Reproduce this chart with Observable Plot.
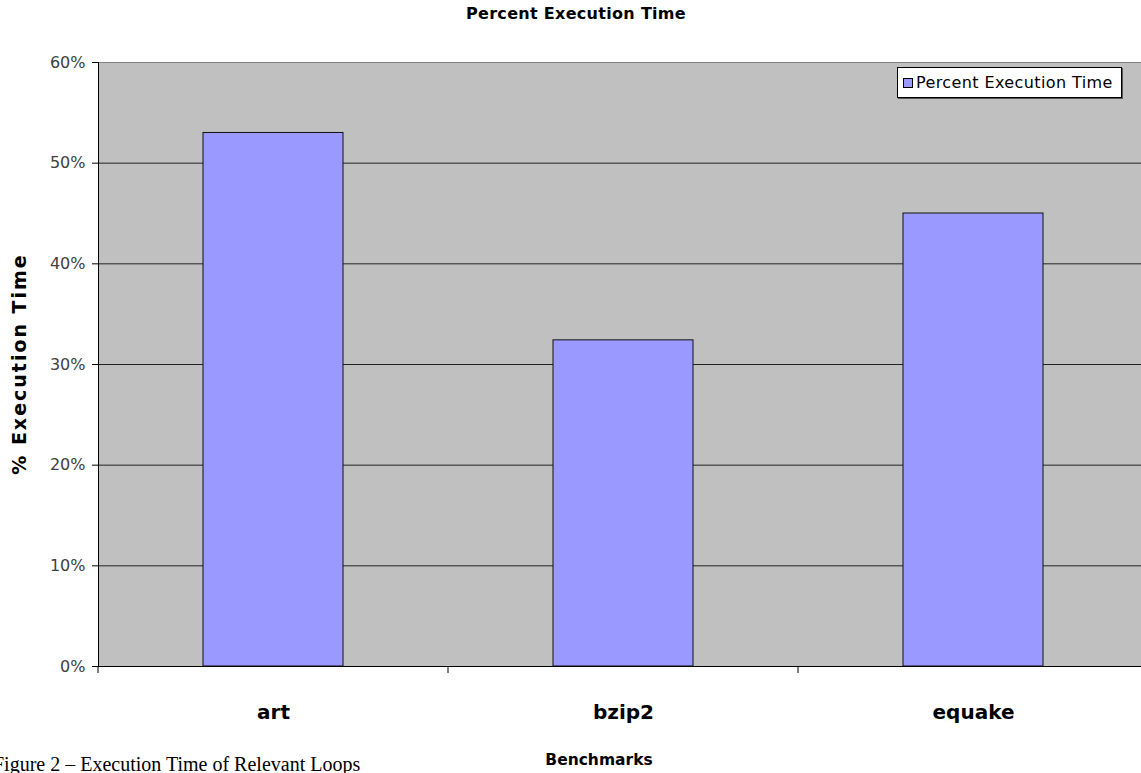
<!DOCTYPE html>
<html>
<head>
<meta charset="utf-8">
<script src="https://cdn.jsdelivr.net/npm/d3@7"></script>
<script src="https://cdn.jsdelivr.net/npm/@observablehq/plot@0.6"></script>
<style>
  html, body { margin: 0; padding: 0; background: #fff; }
  #wrap { position: relative; width: 1141px; height: 773px; overflow: hidden; font-family: "DejaVu Sans", Verdana, sans-serif; }
  #chart { position: absolute; left: 0; top: 0; width: 1200px; }
  #chart svg { max-width: none !important; }
  .title { position: absolute; top: 4px; left: 576px; transform: translateX(-50%); white-space: nowrap; font-weight: bold; font-size: 16px; letter-spacing: 0.3px; color: #000; }
  .ylab { position: absolute; left: 19px; top: 364px; transform: translate(-50%, -50%) rotate(-90deg); white-space: nowrap; font-weight: bold; font-size: 19px; letter-spacing: 2px; color: #000; }
  .xlab { position: absolute; top: 751px; left: 599px; transform: translateX(-50%); white-space: nowrap; font-weight: bold; font-size: 15.5px; color: #000; }
  .caption { position: absolute; left: -7px; top: 753px; font-family: "Liberation Serif", "Times New Roman", serif; font-size: 20px; color: #000; white-space: nowrap; }
  .legend { position: absolute; left: 897px; top: 67px; width: 225px; height: 31px; background: #fff; border: 1px solid #000; box-shadow: 1px 1px 0 #555; display: flex; align-items: center; font-size: 16px; letter-spacing: 0.4px; color: #000; box-sizing: border-box; padding-left: 5px; white-space: nowrap; }
  .legend .sw { width: 8px; height: 8px; background: #9999FF; border: 1px solid #000; margin-right: 3px; flex: none; }
</style>
</head>
<body>
<div id="wrap">
  <div id="chart"></div>
  <div class="title">Percent Execution Time</div>
  <div class="ylab">% Execution Time</div>
  <div class="xlab">Benchmarks</div>
  <div class="caption">Figure 2 – Execution Time of Relevant Loops</div>
  <div class="legend"><span class="sw"></span><span id="legtext"></span></div>
</div>
<script>
const benchmarks = ["art", "bzip2", "equake"];
const percentExecution = [0.53, 0.324, 0.45];
const seriesName = "Percent Execution Time";
const yTicks = [0, 0.1, 0.2, 0.3, 0.4, 0.5, 0.6];

document.getElementById("legtext").textContent = seriesName;

const data = benchmarks.map((b, i) => ({benchmark: b, value: percentExecution[i]}));

// Category boundary ticks below the x axis, placed through the x scale
function boundaryTicks(index, scales, values, dims) {
  const g = d3.create("svg:g");
  const x = scales.x;
  const step = x.step();
  const y0 = dims.height - dims.marginBottom;
  const xs = benchmarks.map(b => x(b) - (step - x.bandwidth()) / 2);
  xs.push(xs[xs.length - 1] + step);
  for (const px of xs) {
    g.append("line").attr("x1", px).attr("x2", px).attr("y1", y0).attr("y2", y0 + 7)
      .attr("stroke", "#000").attr("stroke-width", 1);
  }
  return g.node();
}

const plot = Plot.plot({
  width: 1200,
  height: 773,
  marginLeft: 98,
  marginRight: 52,
  marginTop: 62,
  marginBottom: 107,
  style: {fontFamily: "DejaVu Sans, Verdana, sans-serif", background: "transparent", maxWidth: "none"},
  x: {domain: benchmarks, paddingInner: 0.6, paddingOuter: 0.3, align: 0.5},
  y: {domain: [0, 0.6]},
  marks: [
    Plot.frame({fill: "#C0C0C0", stroke: null}),
    Plot.ruleY([0.6], {stroke: "#808080", strokeWidth: 1}),
    Plot.gridY(yTicks.filter(t => t > 0 && t < 0.6), {stroke: "#222", strokeOpacity: 1, strokeWidth: 1}),
    Plot.barY(data, {x: "benchmark", y: "value", fill: "#9999FF", stroke: "#111", strokeWidth: 1}),
    Plot.ruleY([0], {stroke: "#000", strokeWidth: 1}),
    Plot.frame({anchor: "left", stroke: "#000", strokeWidth: 1}),
    Plot.axisY({ticks: yTicks, tickFormat: d3.format(".0%"), tickSize: 6, tickPadding: 7, fontSize: 16, color: "#404040", stroke: "#000", strokeOpacity: 1, label: null}),
    Plot.axisX({tickSize: 0, tickPadding: 38, fontSize: 20, fontWeight: "bold", label: null, style: {letterSpacing: "1.5px"}}),
    boundaryTicks
  ]
});
plot.style.maxWidth = "none";
document.getElementById("chart").appendChild(plot);
</script>
</body>
</html>
